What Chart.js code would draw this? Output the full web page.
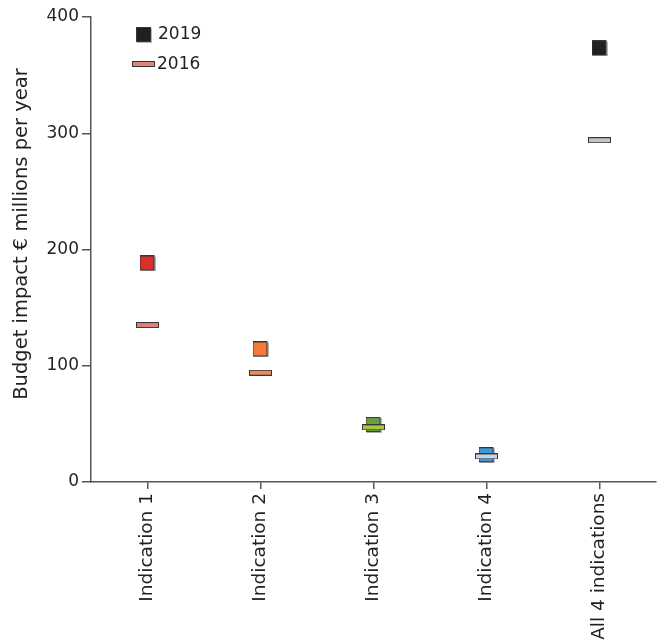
<!DOCTYPE html>
<html>
<head>
<meta charset="utf-8">
<script src="https://cdn.jsdelivr.net/npm/chart.js@4"></script>
<style>
  html, body { margin: 0; padding: 0; background: #fff; }
  #wrap { width: 667px; height: 644px; }
</style>
</head>
<body>
<div id="wrap"><canvas id="budgetChart" width="667" height="644"></canvas></div>
<script>
// --- data ---
const indications = ["Indication 1", "Indication 2", "Indication 3", "Indication 4", "All 4 indications"];
const impact2019 = [188, 114, 49, 23, 373];
const impact2016 = [135, 94, 47, 22, 294];
const yTicks = [0, 100, 200, 300, 400];
const yTitle = "Budget impact € millions per year";

const colors2019 = ["#d9302c", "#f47a36", "#6a9e44", "#3e98d8", "#231f20"];
const colors2016 = ["#e17f7a", "#e98a63", "#a8c83a", "#bcd6f0", "#c4c4c4"];
const outline = "#3a3535";
const textColor = "#231f20";
const fontFamily = "'DejaVu Sans', sans-serif";

// marker images: square for 2019, flat bar for 2016
function squareMarker(fill) {
  const c = document.createElement("canvas");
  c.width = 16; c.height = 16;
  const g = c.getContext("2d");
  g.fillStyle = "#b5b5b5";
  g.fillRect(1, 1, 15, 15);
  g.fillStyle = fill;
  g.fillRect(0, 0, 15, 15);
  g.strokeStyle = outline;
  g.lineWidth = 1;
  g.strokeRect(0.5, 0.5, 14, 14);
  return c;
}
function barMarker(fill) {
  const c = document.createElement("canvas");
  c.width = 23; c.height = 6;
  const g = c.getContext("2d");
  g.fillStyle = fill;
  g.fillRect(0, 0, 23, 6);
  g.strokeStyle = outline;
  g.lineWidth = 1;
  g.strokeRect(0.5, 0.5, 22, 5);
  return c;
}

// legend in the top-left corner plus the y-axis title (sits a bit above centre in the original)
const extrasPlugin = {
  id: "extras",
  afterDraw(chart) {
    const ctx = chart.ctx;
    ctx.save();
    ctx.drawImage(squareMarker(colors2019[4]), 136, 27);
    ctx.drawImage(barMarker(colors2016[0]), 132, 61);
    ctx.fillStyle = textColor;
    ctx.font = "17px " + fontFamily;
    ctx.textBaseline = "middle";
    ctx.fillText("2019", 158, 35);
    ctx.fillText("2016", 157, 65);

    ctx.font = "19.5px " + fontFamily;
    ctx.translate(22, 234);
    ctx.rotate(-Math.PI / 2);
    ctx.textAlign = "center";
    ctx.fillText(yTitle, 0, 0);
    ctx.restore();
  }
};

new Chart(document.getElementById("budgetChart").getContext("2d"), {
  type: "line",
  data: {
    labels: indications,
    datasets: [
      {
        label: "2016",
        data: impact2016,
        showLine: false,
        pointStyle: colors2016.map(barMarker),
        pointRadius: 10
      },
      {
        label: "2019",
        data: impact2019,
        showLine: false,
        pointStyle: colors2019.map(squareMarker),
        pointRadius: 10
      }
    ]
  },
  options: {
    responsive: false,
    animation: false,
    events: [],
    layout: { padding: { top: 17, right: 10, left: 0, bottom: 0 } },
    plugins: { legend: { display: false }, tooltip: { enabled: false } },
    scales: {
      x: {
        type: "category",
        offset: true,
        border: { display: true, color: "#555", width: 1.5 },
        grid: { display: true, drawOnChartArea: false, drawTicks: true, tickLength: 7, color: "#555", lineWidth: 1.5, offset: false },
        ticks: {
          minRotation: 90, maxRotation: 90, autoSkip: false,
          color: textColor, padding: 4,
          font: { family: fontFamily, size: 18.5 }
        },
        afterFit(scale) { scale.height = 162; }
      },
      y: {
        min: 0, max: 400,
        afterBuildTicks(scale) { scale.ticks = yTicks.map(v => ({ value: v })); },
        border: { display: true, color: "#555", width: 1.5 },
        grid: { display: true, drawOnChartArea: false, drawTicks: true, tickLength: 9, color: "#555", lineWidth: 1.5 },
        ticks: { color: textColor, padding: 3, font: { family: fontFamily, size: 17 } },
        afterFit(scale) { scale.width = 91; }
      }
    }
  },
  plugins: [extrasPlugin]
});
</script>
</body>
</html>
